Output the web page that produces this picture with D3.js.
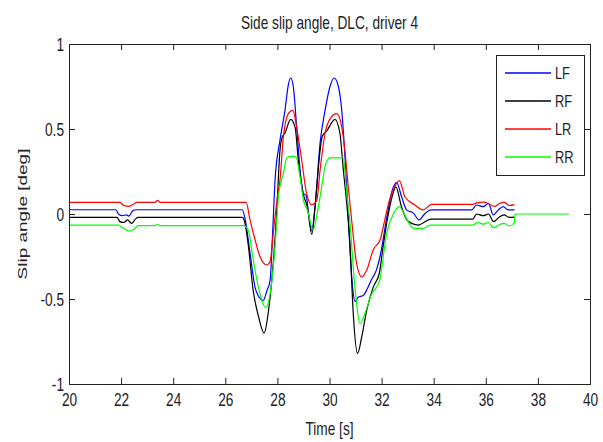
<!DOCTYPE html>
<html>
<head>
<meta charset="utf-8">
<script src="https://cdn.jsdelivr.net/npm/d3@7"></script>
<style>
  html, body { margin: 0; padding: 0; background: #fff; }
  svg { display: block; }
  text { font-family: "Liberation Sans", Arial, sans-serif; fill: #222; }
</style>
</head>
<body>
<svg id="chart" width="603" height="442"></svg>
<script>
// Slip angle per wheel over time, [time s, angle deg]
const LF = [[20,0.025],[21.8,0.025],[21.9,0.0],[22.05,-0.01],[22.2,-0.005],[22.3,-0.012],[22.45,0.02],[22.6,0.025],[26.65,0.025],[26.76,-0.03],[26.95,-0.23],[27.14,-0.43],[27.3,-0.49],[27.45,-0.51],[27.6,-0.45],[27.72,-0.39],[27.82,-0.1],[27.91,0.2],[28.1,0.435],[28.29,0.61],[28.42,0.76],[28.51,0.80],[28.61,0.75],[28.74,0.51],[28.87,0.26],[29.0,0.12],[29.1,0.11],[29.2,0.0],[29.32,-0.10],[29.45,0.05],[29.64,0.42],[29.83,0.61],[30.02,0.75],[30.18,0.80],[30.34,0.75],[30.47,0.61],[30.6,0.32],[30.7,0.05],[30.8,-0.25],[30.9,-0.45],[30.98,-0.515],[31.1,-0.49],[31.29,-0.48],[31.45,-0.44],[31.6,-0.39],[31.8,-0.33],[31.94,-0.25],[32.2,-0.02],[32.39,0.13],[32.58,0.184],[32.77,0.10],[32.96,0.024],[33.22,0.005],[33.44,-0.035],[33.65,0.0],[33.9,0.024],[35.46,0.024],[35.65,0.053],[35.9,0.043],[36.1,0.063],[36.29,-0.006],[36.48,0.024],[36.67,0.043],[36.86,0.024],[37.1,0.024]];
const RF = [[20,-0.02],[21.85,-0.02],[21.95,-0.045],[22.1,-0.05],[22.25,-0.035],[22.4,-0.055],[22.55,-0.03],[22.65,-0.02],[26.65,-0.02],[26.75,-0.05],[26.88,-0.18],[27.07,-0.45],[27.27,-0.60],[27.49,-0.70],[27.65,-0.58],[27.84,-0.29],[27.97,0.0],[28.1,0.376],[28.17,0.445],[28.3,0.48],[28.51,0.557],[28.68,0.51],[28.8,0.32],[28.99,0.12],[29.15,0.04],[29.32,-0.12],[29.45,0.05],[29.64,0.376],[29.72,0.455],[29.9,0.49],[30.21,0.557],[30.4,0.475],[30.53,0.26],[30.66,0.065],[30.79,-0.19],[30.91,-0.58],[31.08,-0.82],[31.24,-0.72],[31.43,-0.565],[31.68,-0.43],[31.91,-0.35],[32.05,-0.2],[32.2,-0.05],[32.4,0.1],[32.55,0.16],[32.75,0.05],[33.0,-0.04],[33.4,-0.065],[33.9,-0.03],[35.5,-0.03],[35.65,0.0],[35.9,-0.01],[36.1,0.0],[36.3,-0.045],[36.5,-0.02],[36.7,-0.005],[36.9,-0.02],[37.1,-0.018]];
const LR = [[20,0.068],[21.95,0.068],[22.1,0.05],[22.3,0.045],[22.5,0.06],[22.6,0.068],[23.3,0.068],[23.4,0.08],[23.5,0.068],[26.8,0.068],[26.95,-0.035],[27.14,-0.15],[27.33,-0.25],[27.59,-0.30],[27.72,-0.28],[27.85,-0.1],[28.0,0.1],[28.1,0.2],[28.23,0.455],[28.42,0.59],[28.59,0.61],[28.74,0.51],[28.93,0.32],[29.12,0.12],[29.32,0.055],[29.51,0.08],[29.64,0.26],[29.83,0.475],[30.02,0.56],[30.28,0.59],[30.47,0.51],[30.6,0.36],[30.72,0.16],[30.85,-0.035],[31.04,-0.29],[31.24,-0.37],[31.43,-0.33],[31.68,-0.21],[31.95,-0.15],[32.1,-0.05],[32.3,0.08],[32.5,0.16],[32.68,0.196],[32.9,0.10],[33.28,0.053],[33.59,0.024],[33.92,0.057],[35.5,0.057],[35.65,0.065],[35.95,0.07],[36.1,0.06],[36.35,0.045],[36.5,0.06],[36.7,0.07],[36.9,0.05],[37.1,0.055]];
const RR = [[20,-0.065],[21.9,-0.065],[22.05,-0.08],[22.3,-0.1],[22.5,-0.09],[22.65,-0.068],[23.3,-0.068],[23.4,-0.062],[23.5,-0.068],[26.7,-0.068],[26.88,-0.094],[27.07,-0.27],[27.27,-0.43],[27.55,-0.55],[27.72,-0.47],[27.91,-0.19],[28.04,0.10],[28.23,0.24],[28.36,0.33],[28.5,0.337],[28.7,0.337],[28.87,0.22],[29.0,0.08],[29.15,0.024],[29.37,-0.094],[29.57,0.04],[29.7,0.16],[29.83,0.28],[30.02,0.33],[30.53,0.33],[30.66,0.12],[30.79,-0.055],[30.91,-0.31],[31.04,-0.525],[31.17,-0.647],[31.36,-0.585],[31.62,-0.47],[31.91,-0.40],[32.2,-0.11],[32.45,0.0],[32.68,0.043],[32.83,0.013],[33.02,-0.045],[33.22,-0.084],[33.6,-0.084],[33.86,-0.065],[35.5,-0.065],[35.7,-0.05],[35.9,-0.06],[36.1,-0.05],[36.3,-0.08],[36.5,-0.065],[36.7,-0.055],[36.9,-0.07],[37.1,-0.05],[37.12,0.0],[39.2,0.0]];

const seriesNames = ["LF", "RF", "LR", "RR"];
const seriesColors = ["#0000ff", "#000000", "#ff0000", "#00ff00"];
const seriesData = [LF, RF, LR, RR];

const xTicks = [20, 22, 24, 26, 28, 30, 32, 34, 36, 38, 40];
const yTicks = [-1, -0.5, 0, 0.5, 1];
const yTickLabels = ["-1", "-0.5", "0", "0.5", "1"];

const titleText = "Side slip angle, DLC, driver 4";
const xLabelText = "Time [s]";
const yLabelText = "Slip angle [deg]";

// Layout
const plot = { left: 69, top: 44, right: 590, bottom: 384 };
const svg = d3.select("#chart");

const x = d3.scaleLinear().domain([20, 40]).range([plot.left, plot.right]);
const y = d3.scaleLinear().domain([-1, 1]).range([plot.bottom, plot.top]);

const tickLen = 6;
const axisColor = "#222";
const fontSize = 19;     // glyph height scale
const squeeze = 0.72;    // narrow, tall lettering

// Narrow the text horizontally while keeping its height
function narrow(sel, factor) {
  sel.each(function () {
    const w = this.getComputedTextLength();
    if (w > 0) {
      d3.select(this)
        .attr("textLength", w * factor)
        .attr("lengthAdjust", "spacingAndGlyphs");
    }
  });
}

// Data lines (clipped to the axes box)
svg.append("clipPath").attr("id", "plotClip")
  .append("rect")
  .attr("x", plot.left).attr("y", plot.top)
  .attr("width", plot.right - plot.left).attr("height", plot.bottom - plot.top);

const line = d3.line()
  .x(d => x(d[0]))
  .y(d => y(d[1]))
  .curve(d3.curveMonotoneX);

const linesG = svg.append("g").attr("clip-path", "url(#plotClip)");
seriesData.forEach((data, i) => {
  linesG.append("path")
    .datum(data)
    .attr("fill", "none")
    .attr("stroke", seriesColors[i])
    .attr("stroke-width", 1.2)
    .attr("stroke-linejoin", "round")
    .attr("d", line);
});

// Axes with inward ticks on all four sides
function styleAxis(g) {
  g.select(".domain").remove();
  g.selectAll(".tick line").attr("stroke", axisColor);
  g.selectAll(".tick text")
    .attr("font-size", fontSize)
    .style("font-family", "'Liberation Sans', Arial, sans-serif")
    .attr("fill", axisColor)
    .call(narrow, squeeze);
}

svg.append("g")
  .attr("transform", `translate(0,${plot.bottom})`)
  .call(d3.axisBottom(x).tickValues(xTicks).tickFormat(d3.format("d"))
    .tickSizeInner(-tickLen).tickSizeOuter(0).tickPadding(9))
  .call(styleAxis);

svg.append("g")
  .attr("transform", `translate(0,${plot.top})`)
  .call(d3.axisTop(x).tickValues(xTicks).tickFormat("")
    .tickSizeInner(-tickLen).tickSizeOuter(0))
  .call(styleAxis);

svg.append("g")
  .attr("transform", `translate(${plot.left},0)`)
  .call(d3.axisLeft(y).tickValues(yTicks).tickFormat((d, i) => yTickLabels[i])
    .tickSizeInner(-tickLen).tickSizeOuter(0).tickPadding(5))
  .call(styleAxis);

svg.append("g")
  .attr("transform", `translate(${plot.right},0)`)
  .call(d3.axisRight(y).tickValues(yTicks).tickFormat("")
    .tickSizeInner(-tickLen).tickSizeOuter(0))
  .call(styleAxis);

// Axes box
svg.append("rect")
  .attr("x", plot.left + 0.5).attr("y", plot.top + 0.5)
  .attr("width", plot.right - plot.left).attr("height", plot.bottom - plot.top)
  .attr("fill", "none").attr("stroke", axisColor).attr("stroke-width", 1);

// Title and axis labels
svg.append("text")
  .attr("x", (plot.left + plot.right) / 2).attr("y", 29)
  .attr("text-anchor", "middle").attr("font-size", fontSize)
  .text(titleText)
  .call(narrow, squeeze);

svg.append("text")
  .attr("x", (plot.left + plot.right) / 2).attr("y", 435)
  .attr("text-anchor", "middle").attr("font-size", fontSize)
  .text(xLabelText)
  .call(narrow, squeeze);

// Rotated label: thin across, long along the axis
svg.append("text")
  .attr("transform", `translate(27,${(plot.top + plot.bottom) / 2}) rotate(-90)`)
  .attr("text-anchor", "middle").attr("font-size", fontSize * squeeze)
  .text(yLabelText)
  .call(narrow, 1 / squeeze);

// Legend
const legend = { x: 496, y: 55, w: 88, h: 120, rowH: 28, firstRow: 18 };
const legG = svg.append("g");
legG.append("rect")
  .attr("x", legend.x + 0.5).attr("y", legend.y + 0.5)
  .attr("width", legend.w).attr("height", legend.h)
  .attr("fill", "#fff").attr("stroke", axisColor).attr("stroke-width", 1);

seriesNames.forEach((name, i) => {
  const ly = legend.y + legend.firstRow + i * legend.rowH;
  legG.append("line")
    .attr("x1", legend.x + 9).attr("x2", legend.x + 55)
    .attr("y1", ly).attr("y2", ly)
    .attr("stroke", seriesColors[i]).attr("stroke-width", 1.5);
  legG.append("text")
    .attr("x", legend.x + 59).attr("y", ly + 6)
    .attr("font-size", 16)
    .text(name)
    .call(narrow, 0.8);
});
</script>
</body>
</html>
